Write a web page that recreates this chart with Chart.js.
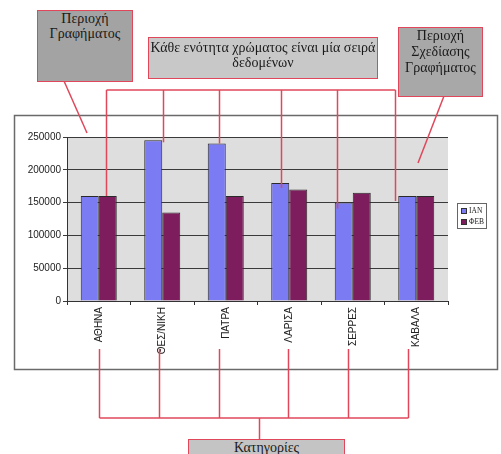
<!DOCTYPE html>
<html>
<head>
<meta charset="utf-8">
<script src="https://cdn.jsdelivr.net/npm/chart.js@4"></script>
<style>
  body{margin:0;background:#fff;}
  #wrap{position:relative;width:501px;height:454px;overflow:hidden;}
  #chart{position:absolute;left:0;top:0;}
  .note{position:absolute;box-sizing:border-box;border:1.5px solid #e0475a;
    font-family:"Liberation Serif","DejaVu Serif",serif;font-size:14px;line-height:15px;
    color:#1a1a1a;text-align:center;white-space:nowrap;}
</style>
</head>
<body>
<div id="wrap">
  <canvas id="chart" width="501" height="454"></canvas>
  <div class="note" style="left:37px;top:10px;width:96px;height:72px;background:#a3a3a3;">Περιοχή<br>Γραφήματος</div>
  <div class="note" style="left:148px;top:37px;width:230px;height:42px;background:#c8c8c8;padding-top:2px;">Κάθε ενότητα χρώματος είναι μία σειρά<br>δεδομένων</div>
  <div class="note" style="left:398px;top:27px;width:85px;height:70px;background:#a8a8a8;line-height:16px;">Περιοχή<br>Σχεδίασης<br>Γραφήματος</div>
  <div class="note" style="left:188px;top:439px;width:157px;height:22px;background:#c4c4c4;">Κατηγορίες</div>
</div>
<script>
document.addEventListener('DOMContentLoaded', function(){
  // data
  const categories = ['ΑΘΗΝΑ', 'ΘΕΣ/ΝΙΚΗ', 'ΠΑΤΡΑ', 'ΛΑΡΙΣΑ', 'ΣΕΡΡΕΣ', 'ΚΑΒΑΛΑ'];
  const seriesNames = ['ΙΑΝ', 'ΦΕΒ'];
  const janValues = [160000, 245000, 240000, 180000, 150000, 160000];
  const febValues = [160000, 135000, 160000, 170000, 165000, 160000];
  const yTicks = [0, 50000, 100000, 150000, 200000, 250000];

  const red = '#e0475a';

  // connectors from the "series" note down to bars: [dataset, index, dx, dy]
  const seriesLinks = [[1,0,-2,0],[0,1,10,2],[0,2,2,0],[0,3,1,5],[0,4,-7,6],[0,5,-12,5]];
  // connectors from category labels to the "categories" note: x offsets
  const catOffsets = [0,-3,-7,-1,-5,-8];

  function line(ctx, x1, y1, x2, y2){
    ctx.beginPath();
    ctx.moveTo(x1, y1);
    ctx.lineTo(x2, y2);
    ctx.stroke();
  }

  const decor = {
    id: 'decor',
    beforeDraw(chart){
      const ctx = chart.ctx, a = chart.chartArea;
      ctx.save();
      ctx.fillStyle = '#dedede';
      ctx.fillRect(a.left, a.top, a.right - a.left, a.bottom - a.top);
      ctx.strokeStyle = '#6a6a6a';
      ctx.lineWidth = 1.5;
      ctx.strokeRect(14.5, 115.5, 483, 254);
      ctx.restore();
    },
    afterDraw(chart){
      const ctx = chart.ctx;
      const xs = chart.scales.x;
      ctx.save();

      // legend
      ctx.fillStyle = '#fff';
      ctx.fillRect(457, 203, 29, 25);
      ctx.strokeStyle = '#666';
      ctx.lineWidth = 1;
      ctx.strokeRect(457.5, 203.5, 29, 25);
      ctx.font = '7.5px "Liberation Serif", serif';
      ctx.textBaseline = 'middle';
      chart.data.datasets.forEach(function(ds, i){
        const y = 211 + i * 11;
        ctx.fillStyle = ds.backgroundColor;
        ctx.fillRect(461, y - 3, 6, 6);
        ctx.strokeStyle = '#333';
        ctx.strokeRect(461.5, y - 2.5, 5, 5);
        ctx.fillStyle = '#222';
        ctx.fillText(ds.label, 469, y + 0.5);
      });

      // annotation connectors
      ctx.strokeStyle = red;
      ctx.lineWidth = 1.5;
      line(ctx, 64, 81, 87, 133);
      line(ctx, 444, 96, 418, 163);

      const topY = 90;
      let minX = Infinity, maxX = -Infinity;
      seriesLinks.forEach(function(l){
        const bar = chart.getDatasetMeta(l[0]).data[l[1]];
        const x = Math.round(bar.x + l[2]) + 0.5;
        minX = Math.min(minX, x); maxX = Math.max(maxX, x);
        line(ctx, x, topY, x, bar.y + l[3]);
      });
      line(ctx, minX, topY, maxX, topY);

      const botY = 418;
      let cMin = Infinity, cMax = -Infinity;
      categories.forEach(function(c, i){
        const x = Math.round(xs.getPixelForValue(i) + catOffsets[i]) + 0.5;
        cMin = Math.min(cMin, x); cMax = Math.max(cMax, x);
        line(ctx, x, 349, x, botY);
      });
      line(ctx, cMin, botY, cMax, botY);
      line(ctx, 259.5, botY, 259.5, 439);
      ctx.restore();
    }
  };

  new Chart(document.getElementById('chart'), {
    type: 'bar',
    data: {
      labels: categories,
      datasets: [
        { label: seriesNames[0], data: janValues, backgroundColor: '#7b7bf3',
          borderColor: '#2a2a2a', borderWidth: 1, categoryPercentage: 0.567, barPercentage: 1 },
        { label: seriesNames[1], data: febValues, backgroundColor: '#7e1d5d',
          borderColor: '#2a2a2a', borderWidth: 1, categoryPercentage: 0.567, barPercentage: 1 }
      ]
    },
    options: {
      responsive: false,
      animation: false,
      layout: { padding: { left: 0, top: 137, right: 53, bottom: 0 } },
      plugins: { legend: { display: false }, tooltip: { enabled: false } },
      scales: {
        x: {
          afterFit(scale){ scale.height = 153; },
          grid: { drawOnChartArea: false, drawTicks: true, tickLength: 4, color: '#333', offset: true },
          border: { color: '#333', width: 1 },
          ticks: { minRotation: 90, maxRotation: 90, padding: 2, color: '#222',
            font: { family: '"Liberation Sans", Arial, sans-serif', size: 10 } }
        },
        y: {
          min: 0, max: 250000,
          afterFit(scale){ scale.width = 67; },
          afterBuildTicks(scale){ scale.ticks = yTicks.map(function(v){ return { value: v }; }); },
          grid: { color: '#3a3a3a', lineWidth: 1, tickLength: 4 },
          border: { color: '#333', width: 1 },
          ticks: { padding: 2, color: '#222', callback: function(v){ return String(v); },
            font: { family: '"Liberation Sans", Arial, sans-serif', size: 10 } }
        }
      }
    },
    plugins: [decor]
  });
});
</script>
</body>
</html>
